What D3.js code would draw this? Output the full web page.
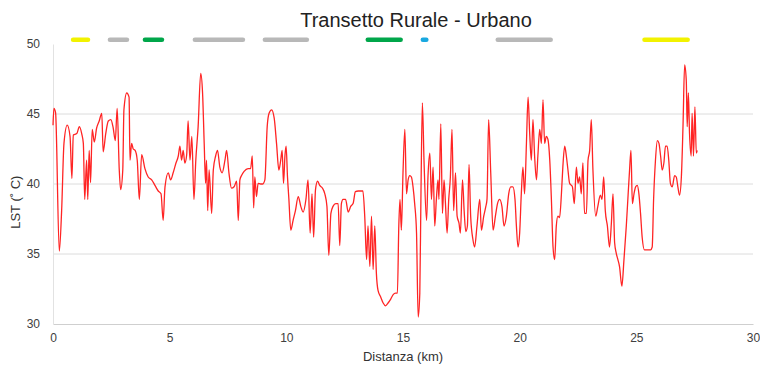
<!DOCTYPE html>
<html><head><meta charset="utf-8">
<script src="https://cdn.jsdelivr.net/npm/d3@7"></script>
<style>
html,body{margin:0;padding:0;background:#fff;}
svg{display:block;font-family:"Liberation Sans",Arial,sans-serif;}
</style></head><body>
<svg id="chart" width="760" height="367"></svg>
<script>
const title = "Transetto Rurale - Urbano";
const xLabel = "Distanza (km)";
const yLabel = "LST (˚ C)";
const xTicks = [0, 5, 10, 15, 20, 25, 30];
const yTicks = [30, 35, 40, 45, 50];

const distanceKm = [0.00,0.04,0.11,0.27,0.37,0.47,0.61,0.73,0.81,0.87,1.02,1.13,1.23,1.30,1.36,1.44,1.49,1.55,1.61,1.68,1.77,1.87,1.98,2.09,2.15,2.26,2.37,2.48,2.58,2.67,2.75,2.84,2.90,2.99,3.04,3.16,3.26,3.30,3.37,3.44,3.52,3.61,3.70,3.80,3.94,4.08,4.23,4.37,4.51,4.63,4.72,4.80,4.94,5.04,5.15,5.27,5.37,5.44,5.51,5.58,5.65,5.73,5.79,5.87,5.95,6.04,6.12,6.22,6.33,6.41,6.48,6.54,6.58,6.63,6.69,6.80,6.87,6.97,7.05,7.15,7.25,7.37,7.44,7.54,7.65,7.76,7.87,7.94,8.01,8.08,8.19,8.36,8.47,8.54,8.60,8.65,8.72,8.79,8.90,8.98,9.08,9.18,9.26,9.37,9.48,9.58,9.68,9.76,9.82,9.88,9.94,9.99,10.05,10.11,10.19,10.29,10.39,10.51,10.62,10.72,10.84,10.93,11.02,11.10,11.17,11.25,11.34,11.43,11.55,11.65,11.74,11.82,11.91,12.00,12.12,12.22,12.29,12.36,12.43,12.54,12.65,12.76,12.86,12.96,13.08,13.19,13.28,13.36,13.44,13.50,13.58,13.65,13.72,13.79,13.86,13.93,14.04,14.15,14.25,14.36,14.48,14.58,14.68,14.76,14.82,14.87,14.93,15.00,15.08,15.15,15.22,15.29,15.36,15.43,15.50,15.58,15.65,15.72,15.77,15.83,15.90,16.01,16.07,16.15,16.22,16.29,16.36,16.43,16.50,16.54,16.62,16.69,16.76,16.82,16.89,16.96,17.03,17.10,17.17,17.25,17.32,17.40,17.46,17.55,17.62,17.69,17.76,17.83,17.90,18.00,18.07,18.17,18.29,18.36,18.46,18.55,18.60,18.67,18.76,18.86,18.96,19.05,19.14,19.24,19.33,19.43,19.53,19.62,19.71,19.80,19.86,19.93,20.00,20.07,20.14,20.21,20.29,20.36,20.43,20.50,20.57,20.64,20.72,20.78,20.86,20.93,21.00,21.07,21.14,21.21,21.29,21.36,21.43,21.50,21.57,21.64,21.71,21.79,21.85,21.93,22.00,22.07,22.14,22.26,22.34,22.43,22.50,22.57,22.64,22.71,22.78,22.86,22.93,23.00,23.07,23.14,23.26,23.35,23.46,23.53,23.60,23.67,23.76,23.85,23.93,24.00,24.07,24.14,24.21,24.28,24.38,24.47,24.57,24.65,24.71,24.77,24.83,24.90,24.97,25.04,25.11,25.18,25.25,25.35,25.49,25.61,25.68,25.74,25.82,25.90,25.97,26.04,26.11,26.18,26.25,26.32,26.39,26.46,26.54,26.64,26.71,26.78,26.85,26.93,27.00,27.07,27.14,27.18,27.23,27.28,27.35,27.39,27.45,27.51,27.57,27.61];

const lst = [44.2,45.4,45.1,35.2,38.1,42.9,44.2,43.4,40.4,43.5,43.6,44.1,43.6,42.9,38.9,41.7,38.9,42.4,40.1,43.9,43.0,44.0,44.5,45.05,42.3,43.6,44.5,44.6,44.0,43.1,45.4,41.0,39.6,41.0,45.3,46.5,46.2,41.7,42.9,42.5,42.4,41.7,38.9,42.1,41.1,40.5,40.3,39.9,39.5,39.3,37.4,39.8,40.8,40.3,40.8,41.5,42.0,42.7,41.7,42.4,41.5,42.1,44.5,41.7,43.4,38.9,41.7,44.1,47.9,46.5,42.9,40.05,41.7,38.1,41.0,37.9,41.0,42.0,42.4,41.2,40.8,41.7,42.4,40.8,39.7,39.8,40.2,37.4,40.3,40.6,40.9,41.1,41.1,42.0,38.3,40.5,39.1,40.05,40.0,40.0,40.3,44.1,45.05,45.3,44.7,42.9,41.0,41.7,42.4,40.05,42.0,42.7,40.5,38.9,36.7,37.4,38.1,39.1,38.4,38.0,38.9,40.3,36.5,39.3,36.2,39.6,40.2,39.9,39.7,39.3,38.4,34.9,37.9,38.4,38.6,38.6,35.6,38.6,38.9,38.9,38.0,38.4,38.6,39.45,39.5,39.5,39.5,37.7,34.6,37.0,34.1,37.7,33.9,37.0,33.6,32.4,31.95,31.5,31.3,31.5,31.8,32.1,32.2,32.2,37.0,38.9,36.7,40.8,43.9,39.3,40.3,40.6,40.5,39.8,38.6,36.5,30.5,32.2,39.3,45.8,41.7,37.4,40.5,42.2,38.9,41.2,37.0,38.9,40.3,38.9,44.3,37.9,40.3,38.6,36.5,38.9,40.5,43.9,38.1,40.8,37.7,37.2,36.5,40.3,38.1,36.6,37.0,41.4,37.7,36.0,35.5,37.0,38.9,36.7,37.7,38.4,38.9,44.6,40.8,36.7,37.7,38.6,38.9,38.4,37.0,37.7,39.3,39.8,39.8,38.9,37.0,35.5,36.5,39.3,41.2,39.3,42.9,46.2,43.6,41.7,44.6,42.0,40.3,42.0,43.9,42.9,46.0,42.9,43.4,43.2,41.7,38.9,35.5,34.6,37.0,37.7,37.6,39.3,41.2,42.7,42.0,41.0,40.05,39.8,38.6,41.2,40.05,40.5,39.3,41.5,37.9,37.9,41.7,42.4,44.6,41.0,37.7,38.4,39.2,38.9,40.5,38.1,37.0,35.5,37.2,39.3,35.8,35.05,34.6,34.1,32.7,34.6,37.0,39.3,41.0,42.4,38.6,39.3,39.8,39.9,39.3,37.9,36.2,35.3,35.3,35.3,35.5,38.9,41.7,43.1,42.9,42.0,41.0,41.5,42.7,42.7,41.7,40.05,39.8,40.6,40.5,39.8,39.2,40.5,44.1,48.5,47.4,44.1,46.5,43.6,42.0,45.05,42.0,45.5,42.2,42.4];

// land-use strips along the top of the transect
const stripStartKm = [0.86, 2.44, 3.94, 6.08, 9.08, 13.49, 15.85, 19.06, 25.35];
const stripEndKm   = [1.50, 3.17, 4.67, 8.14, 10.88, 14.90, 16.00, 21.33, 27.20];
const stripType    = ["giallo","grigio","verde","grigio","grigio","verde","azzurro","grigio","giallo"];
const stripLevel = 50.3;

const typeColor = {giallo:"#f2f200", grigio:"#b8b8b8", verde:"#00a64a", azzurro:"#19a8e0"};

const svg = d3.select("#chart");
const margin = {left:53, right:7, top:44, bottom:43};
const W = 760, H = 367;
const x = d3.scaleLinear().domain([0,30]).range([margin.left, W - margin.right]);
const y = d3.scaleLinear().domain([30,50]).range([H - margin.bottom, margin.top]);

// grid lines
svg.append("g").selectAll("line").data(yTicks.filter(v => v > 30 && v < 50)).join("line")
  .attr("x1", x(0)).attr("x2", x(30))
  .attr("y1", d => y(d)).attr("y2", d => y(d))
  .attr("stroke", "#dcdcdc").attr("stroke-width", 1);

// axes
const xAxis = d3.axisBottom(x).tickValues(xTicks).tickSize(0).tickPadding(9).tickFormat(d3.format("d"));
const gx = svg.append("g").attr("transform", `translate(0,${y(30)})`).call(xAxis);
gx.select(".domain").attr("stroke", "#cfcfcf");
gx.selectAll("text").attr("font-size", 12).attr("fill", "#404040")
  .attr("font-family", "'Liberation Sans',Arial,sans-serif");

const yAxis = d3.axisLeft(y).tickValues(yTicks).tickSize(0).tickPadding(13).tickFormat(d3.format("d"));
const gy = svg.append("g").attr("transform", `translate(${x(0)},0)`).call(yAxis);
gy.select(".domain").attr("stroke", "#e2e2e2");
gy.selectAll("text").attr("font-size", 12).attr("fill", "#404040")
  .attr("font-family", "'Liberation Sans',Arial,sans-serif");

// land-use strips
svg.append("g").selectAll("line").data(stripStartKm.map((s,i) => ({s, e: stripEndKm[i], t: stripType[i]}))).join("line")
  .attr("x1", d => x(d.s)).attr("x2", d => x(d.e))
  .attr("y1", y(stripLevel)).attr("y2", y(stripLevel))
  .attr("stroke", d => typeColor[d.t])
  .attr("stroke-width", 4.5).attr("stroke-linecap", "round");

// LST line
const pts = distanceKm.map((d,i) => [d, lst[i]]);
svg.append("path").datum(pts)
  .attr("fill", "none").attr("stroke", "#ff2424").attr("stroke-width", 1.3)
  .attr("stroke-linejoin", "round")
  .attr("d", d3.line().x(d => x(d[0])).y(d => y(d[1])).curve(d3.curveMonotoneX));

// title
svg.append("text").attr("x", 416).attr("y", 27).attr("text-anchor", "middle")
  .attr("font-size", 20).attr("fill", "#222").text(title);

// axis labels
svg.append("text").attr("x", 403).attr("y", 361).attr("text-anchor", "middle")
  .attr("font-size", 13).attr("fill", "#333").text(xLabel);
svg.append("text").attr("transform", `translate(20,${y(38.7)}) rotate(-90)`).attr("text-anchor", "middle")
  .attr("font-size", 13).attr("fill", "#333").text(yLabel);
</script>
</body></html>
